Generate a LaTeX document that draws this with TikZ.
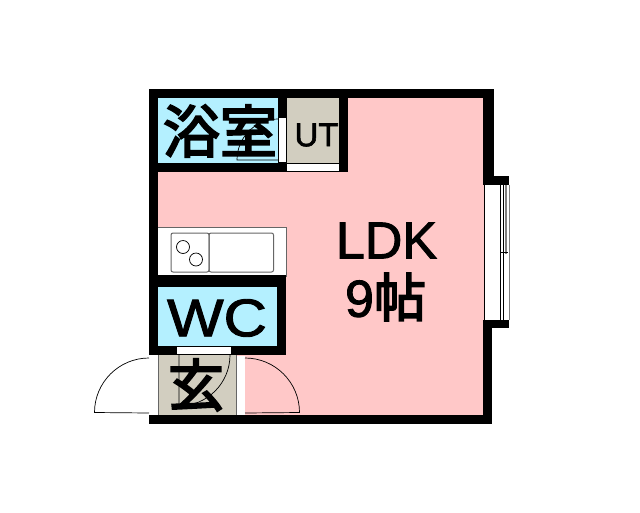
\documentclass[tikz,border=0pt]{standalone}
\usepackage{fontspec}
\setmainfont{Liberation Sans}
\newfontfamily\latinfont[FakeBold=1.8]{Liberation Sans}
\newfontfamily\cjkfont[FakeBold=3.5]{Noto Sans CJK JP}
\definecolor{roompink}{HTML}{FFC8C8}
\definecolor{roomblue}{HTML}{B4F0FF}
\definecolor{roomtan}{HTML}{D2CEC0}
\tikzset{
    wall/.style={fill=black},
    opening/.style={fill=white},
    thinline/.style={draw=black,line width=0.7pt},
    sinkbox/.style={draw=black!60,line width=1pt,rounded corners=2pt},
    label/.style={inner sep=0pt,text=black}
}

\begin{document}
\begin{tikzpicture}[x=1pt,y=-1pt]
    \useasboundingbox (0,0) rectangle (640,512);
    \fill[white] (0,0) rectangle (640,512);

    % Floors
    \fill[roompink] (158,98) rectangle (484,415);
    \fill[roomblue] (158,98) rectangle (278,163);
    \fill[roomtan] (287,98) rectangle (339,163);
    \fill[roomblue] (158,287) rectangle (277,346);
    \fill[roomtan] (158,355) rectangle (236,415);
    \fill[white] (158,227) rectangle (286,277);
    \draw[black!60,line width=0.7pt] (158,227) -- (286,227) -- (286,277);

    % Walls
    \fill[wall] (149,89) rectangle (494,98);
    \fill[wall] (149,89) rectangle (158,355);
    \fill[wall] (483,89) rectangle (494,178);
    \fill[wall] (483,176) rectangle (509,185);
    \fill[wall] (483,320) rectangle (509,328);
    \fill[wall] (483,320) rectangle (492,424);
    \fill[wall] (149,415) rectangle (492,424);
    \fill[wall] (278,89) rectangle (287,172);
    \fill[wall] (339,89) rectangle (348,172);
    \fill[wall] (149,163) rectangle (348,172);
    \fill[wall] (158,275) rectangle (286,277);
    \fill[wall] (149,277) rectangle (286,287);
    \fill[wall] (277,277) rectangle (286,355);
    \fill[wall] (149,346) rectangle (286,355);

    % Openings
    \fill[opening] (279,118) rectangle (286,162);
    \fill[opening] (287,164) rectangle (339,171);
    \fill[opening] (177,347) rectangle (231,354);
    \fill[opening] (149,356) rectangle (158,415);
    \fill[opening] (236,356) rectangle (245,415);
    \fill[opening] (484,185) rectangle (509,320);
    \draw[black!60,line width=0.7pt] (158,355) -- (158,415) (236,355) -- (236,415);

    % Window
    \draw[black,line width=1pt] (500.7,185) -- (500.7,320);
    \draw[black,line width=0.8pt] (503.3,185) -- (503.3,320);
    \draw[black!50,line width=2pt] (505.7,185) -- (505.7,254);
    \draw[black!50,line width=0.8pt] (509,185) -- (509,320);
    \draw[black,line width=0.7pt] (484,185) -- (484,320);
    \draw[black,line width=0.8pt] (501,252) -- (508,252);

    % Sink
    \draw[sinkbox] (171,233) rectangle (209,272);
    \draw[sinkbox] (209,233) rectangle (273.5,272);
    \draw[thinline] (183,247) circle [radius=6.5pt];
    \draw[thinline] (196,259.5) circle [radius=6.5pt];

    % Doors
    \draw[thinline] (149,358) arc [start angle=90,end angle=180,radius=54.5pt] -- (149,413);
    \draw[thinline] (245,358) arc [start angle=90,end angle=0,radius=54.5pt] -- (245,413);
    \draw[thinline] (179,355) -- (179,406) arc [start angle=-90,end angle=0,radius=51pt];
    \draw[thinline] (278,119) arc [start angle=90,end angle=180,radius=41pt] -- (278,160);

    % Labels
    \node[label] (bath) at (220,131) {\cjkfont\fontsize{57}{57}\selectfont 浴室};
    \node[label] (ut) at (316.5,135) {\latinfont\fontsize{33}{33}\selectfont UT};
    \node[label,xscale=1.13] (wc) at (217,318) {\latinfont\fontsize{53}{53}\selectfont WC};
    \node[label] (entry) at (196,385) {\cjkfont\fontsize{56}{56}\selectfont 玄};
    \node[label] (ldk) at (386.5,240.5) {\latinfont\fontsize{52}{52}\selectfont LDK};
    \node[label] (size) at (385.5,297) {\latinfont\fontsize{52}{52}\selectfont 9\cjkfont\fontsize{52}{52}\selectfont 帖};
\end{tikzpicture}
\end{document}
